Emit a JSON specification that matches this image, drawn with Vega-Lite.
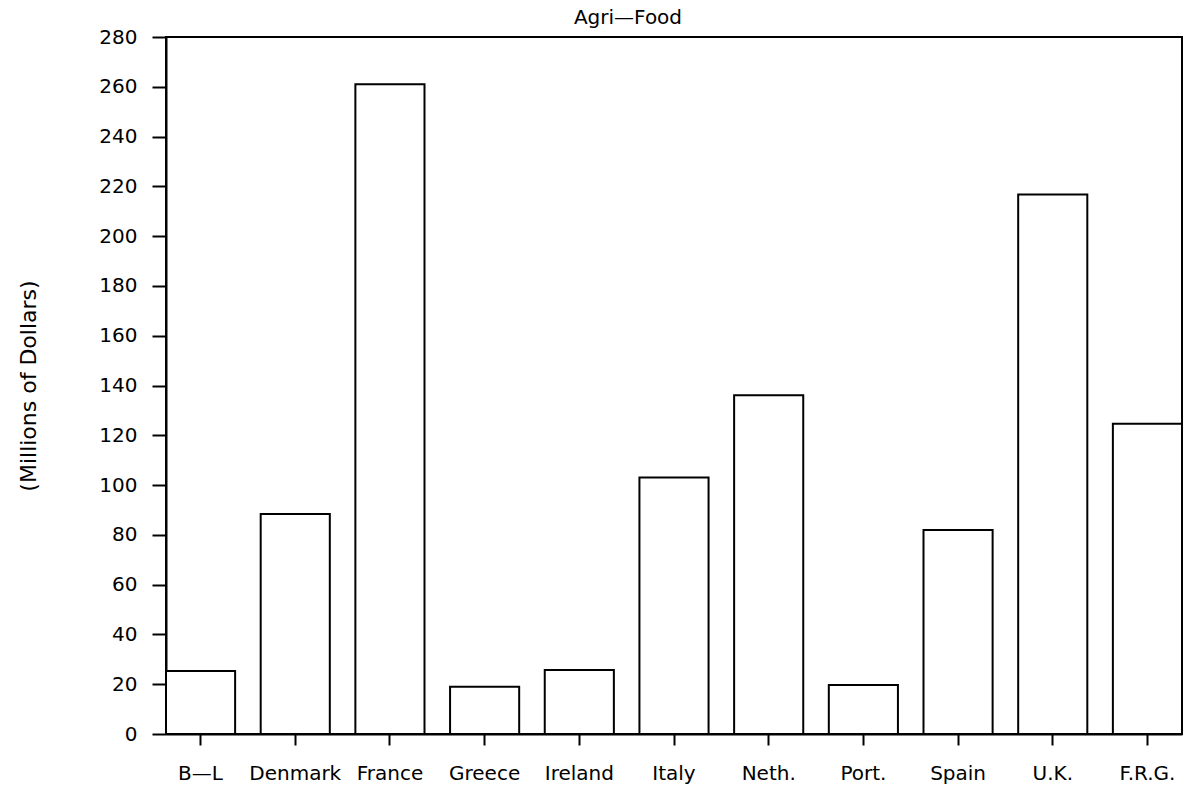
{
  "$schema": "https://vega.github.io/schema/vega-lite/v6.json",
  "autosize": "none",
  "width": 1016,
  "height": 697,
  "padding": {"left": 166, "top": 37, "right": 3, "bottom": 56},
  "background": "white",
  "title": {
    "text": "Agri—Food",
    "anchor": "middle",
    "dx": -46,
    "offset": -1,
    "font": "DejaVu Sans",
    "fontSize": 20,
    "fontWeight": "normal",
    "color": "black"
  },
  "data": {
    "values": [
      {"country": "B—L", "value": 25.3},
      {"country": "Denmark", "value": 88.4},
      {"country": "France", "value": 261.0},
      {"country": "Greece", "value": 19.0},
      {"country": "Ireland", "value": 25.7},
      {"country": "Italy", "value": 103.0},
      {"country": "Neth.", "value": 136.1},
      {"country": "Port.", "value": 19.7},
      {"country": "Spain", "value": 82.0},
      {"country": "U.K.", "value": 216.7},
      {"country": "F.R.G.", "value": 124.6}
    ]
  },
  "mark": {"type": "bar", "fill": "white", "stroke": "black", "strokeWidth": 2},
  "encoding": {
    "x": {
      "field": "country",
      "type": "nominal",
      "sort": null,
      "scale": {"paddingInner": 0.27, "paddingOuter": 0},
      "axis": {
        "title": null,
        "labelAngle": 0,
        "labelFont": "DejaVu Sans",
        "labelFontSize": 20,
        "labelColor": "black",
        "labelPadding": 18,
        "tickSize": 11,
        "tickWidth": 2,
        "tickColor": "black",
        "domainColor": "black",
        "domainWidth": 2,
        "grid": false
      }
    },
    "y": {
      "field": "value",
      "type": "quantitative",
      "scale": {"domain": [0, 280], "nice": false},
      "axis": {
        "title": "(Millions of Dollars)",
        "titleFont": "DejaVu Sans",
        "titleFontSize": 22,
        "titleFontWeight": "normal",
        "titleColor": "black",
        "titlePadding": 58,
        "values": [0, 20, 40, 60, 80, 100, 120, 140, 160, 180, 200, 220, 240, 260, 280],
        "labelFont": "DejaVu Sans",
        "labelFontSize": 20,
        "labelColor": "black",
        "labelPadding": 15,
        "tickSize": 14,
        "tickWidth": 2,
        "tickColor": "black",
        "domainColor": "black",
        "domainWidth": 2,
        "grid": false
      }
    }
  },
  "config": {
    "view": {"stroke": "black", "strokeWidth": 2}
  }
}
